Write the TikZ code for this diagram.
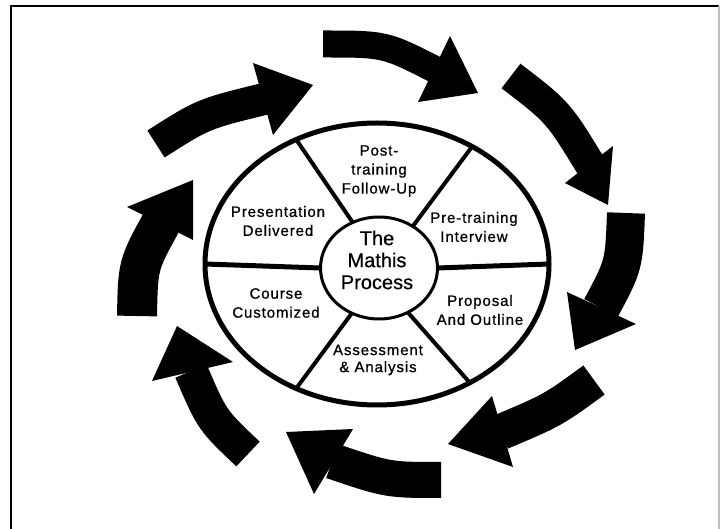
\documentclass[tikz,border=0pt]{standalone}
\usepackage{fontspec}
\setmainfont{Liberation Sans}
\newfontfamily\lblfont[LetterSpace=6,FakeBold=0.8]{Liberation Sans}
\newfontfamily\ctrfont[FakeBold=0.6]{Liberation Sans}
\usetikzlibrary{shapes.geometric}
\newcommand\arcarrow[7]{%
  \draw[line width=#7, line cap=butt] #1 .. controls #2 .. #3;
  \fill #4 -- #5 -- #6 -- cycle;}
\begin{document}
\begin{tikzpicture}[x=1pt,y=-1pt,
  lbl/.style={align=center, inner sep=0pt, font=\lblfont\fontsize{15}{19}\selectfont},
  ctr/.style={align=center, inner sep=0pt, font=\ctrfont\fontsize{20}{22}\selectfont},
  divider/.style={line width=4pt},
  ring/.style={draw, ellipse, inner sep=0pt, outer sep=0pt}]
\useasboundingbox (0,0) rectangle (721,529);
% frame
\draw[line width=2pt] (11,535) -- (11,6) -- (719,6);
\draw[black!25, line width=1.5pt] (719,6) -- (719,535);
% ellipses
\node[ring, line width=5pt, minimum width=344pt, minimum height=282pt] (outer) at (377,264) {};
\node[ring, line width=3pt, fill=white, minimum width=117pt, minimum height=102pt] (inner) at (379,268) {};
% dividers
\draw[line width=5pt] (inner.west) -- (outer.west);
\draw[line width=5pt] (inner.east) -- (outer.east);
\draw[divider] (inner.120) -- (outer.123);
\draw[divider] (inner.51) -- (outer.51);
\draw[divider] (inner.239) -- (outer.237);
\draw[divider] (inner.303) -- (outer.308);
% labels
\node[lbl] (post) at (379,171) {Post-\\training\\Follow-Up};
\node[lbl] (pres) at (278,221) {Presentation\\Delivered};
\node[lbl] (pre) at (474,227) {Pre-training\\Interview};
\node[ctr] (mathis) at (377,260) {The\\Mathis\\Process};
\node[lbl] (course) at (276,303) {Course\\Customized};
\node[lbl] (prop) at (480,310) {Proposal\\And Outline};
\node[lbl, font=\lblfont\fontsize{15}{17}\selectfont] (assess) at (378,360) {Assessment\\\& Analysis};
% arrows (clockwise)
\arcarrow{(156,144)}{(203,114)}{(264,99)}{(253,63)}{(313,85)}{(273,135)}{32pt}
\arcarrow{(323,44)}{(385,44)}{(436,70)}{(450,36)}{(478,93)}{(418,102)}{27pt}
\arcarrow{(511,76)}{(558,112)}{(591,166)}{(613,146)}{(608,205)}{(565,183)}{31pt}
\arcarrow{(626,213)}{(624,265)}{(601,308)}{(567,292)}{(575,350)}{(636,324)}{38pt}
\arcarrow{(594,380)}{(553,410)}{(501,432)}{(492,396)}{(448,444)}{(513,467)}{36pt}
\arcarrow{(441,480)}{(388,480)}{(332,461)}{(353,429)}{(286,432)}{(314,494)}{36pt}
\arcarrow{(248,454)}{(212,420)}{(191,371)}{(152,381)}{(177,326)}{(233,362)}{34pt}
\arcarrow{(137,316)}{(138,265)}{(161,223)}{(127,207)}{(193,180)}{(193,240)}{40pt}
\end{tikzpicture}
\end{document}
